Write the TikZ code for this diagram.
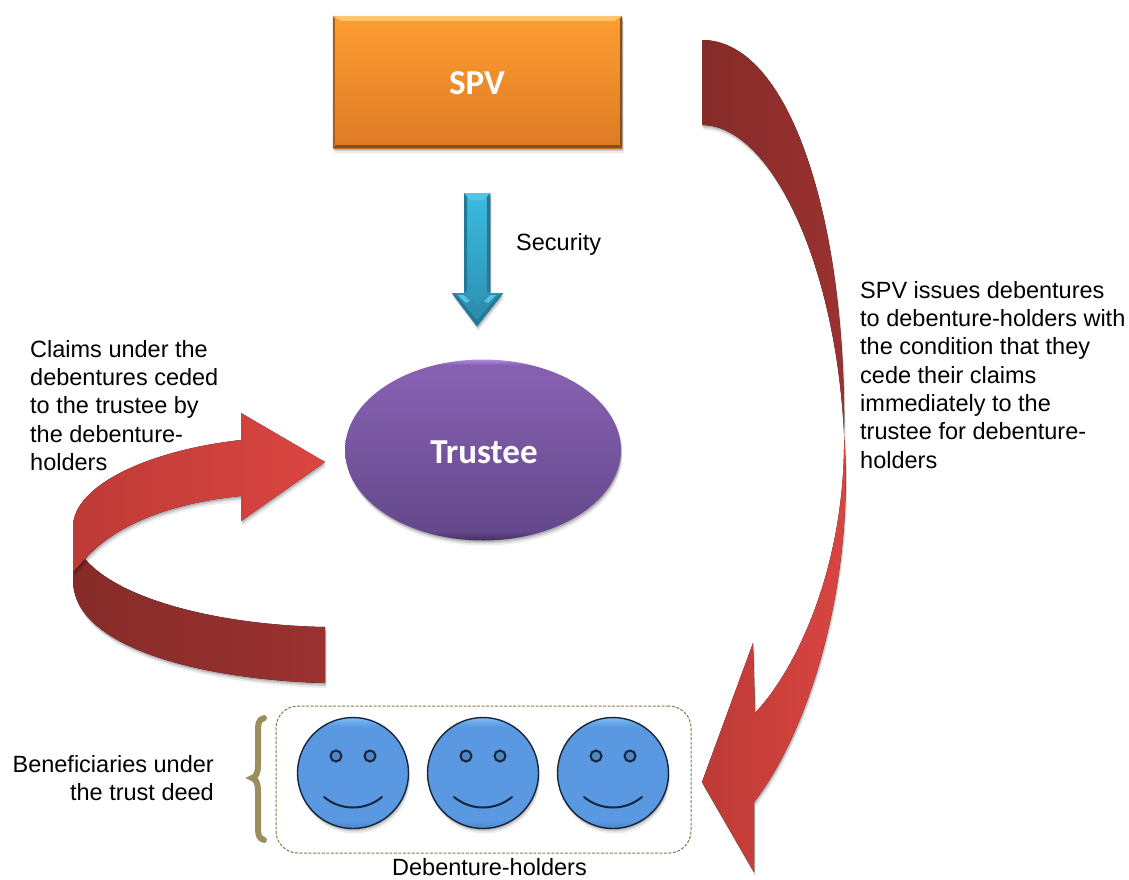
\documentclass[tikz,border=0pt]{standalone}
\usepackage{fontspec}
\setmainfont{Liberation Sans}
\newfontfamily\boxfont{Carlito}
\usetikzlibrary{shadows,shapes.geometric}
\definecolor{spvtop}{HTML}{FF9E33}
\definecolor{spvbottom}{HTML}{DD7A24}
\definecolor{spvlight}{HTML}{FFC66E}
\definecolor{spvdark}{HTML}{7E5024}
\definecolor{ovallight}{HTML}{B08BE0}
\definecolor{ovaltop}{HTML}{8660B0}
\definecolor{ovalbottom}{HTML}{64488C}
\definecolor{ovaldark}{HTML}{4A3568}
\definecolor{facelight}{HTML}{7FBDF6}
\definecolor{faceblue}{HTML}{5A98E2}
\definecolor{faceedge}{HTML}{4F88CC}
\definecolor{facestroke}{HTML}{16253A}
\definecolor{eyeblue}{HTML}{4F86C6}
\definecolor{olive}{HTML}{9A8F5C}
\definecolor{ribbondark}{HTML}{862B29}
\definecolor{ribbonmid}{HTML}{9A3230}
\definecolor{ribbonlow}{HTML}{BD3A36}
\definecolor{ribbonhigh}{HTML}{DB4642}
\definecolor{cyantop}{HTML}{3BBBE0}
\definecolor{cyanbottom}{HTML}{2D8DAD}
\definecolor{cyanhead}{HTML}{2C8FAF}
\definecolor{cyandark}{HTML}{1F7A98}
\definecolor{cyanlight}{HTML}{55C4E2}
\pgfdeclareverticalshading{ovalfill}{100bp}{color(0bp)=(ovaldark); color(25.5bp)=(ovaldark); color(27.5bp)=(ovalbottom); color(70bp)=(ovaltop); color(73.5bp)=(ovaltop); color(75bp)=(ovallight); color(100bp)=(ovallight)}
\pgfdeclareverticalshading{facefill}{100bp}{color(0bp)=(faceedge); color(25bp)=(faceedge); color(29bp)=(faceblue); color(71bp)=(faceblue); color(75bp)=(facelight); color(100bp)=(facelight)}
\tikzset{
    softshadow/.style={
        general shadow={shadow xshift=0.5pt,shadow yshift=-1.5pt,opacity=0.14,fill=black},
        general shadow={shadow xshift=1pt,shadow yshift=-3pt,opacity=0.12,fill=black},
        general shadow={shadow xshift=1.5pt,shadow yshift=-5pt,opacity=0.08,fill=black}},
    bodytext/.style={inner sep=0pt,font=\fontsize{23.5}{28.3}\selectfont},
    boxtext/.style={text=white,font=\boxfont\fontsize{35}{40}\selectfont\bfseries},
    facenode/.style={circle,minimum size=111pt,inner sep=0pt,draw=facestroke,line width=1.4pt,shading=facefill,softshadow},
    faceline/.style={draw=facestroke,line width=2pt},
    ribbonupper/.style={left color=ribbondark,right color=ribbonmid,softshadow},
    ribbonlower/.style={left color=ribbonlow,right color=ribbonhigh,softshadow}
}
\begin{document}
\begin{tikzpicture}[x=1pt,y=-1pt]
    \useasboundingbox (0,0) rectangle (1129,879);

    \node[rectangle,minimum width=289pt,minimum height=132pt,top color=spvtop,bottom color=spvbottom,softshadow] (spv) at (477.5,82) {};
    \fill[spvlight] (spv.north west) -- (spv.north east) -- ([xshift=-8pt,yshift=-5pt]spv.north east) -- ([xshift=8pt,yshift=-5pt]spv.north west) -- cycle;
    \fill[spvdark] (spv.south west) -- (spv.south east) -- ([xshift=-3pt,yshift=3pt]spv.south east) -- ([xshift=3pt,yshift=3pt]spv.south west) -- cycle;
    \fill[spvdark] (spv.north east) -- (spv.south east) -- ([xshift=-2pt,yshift=3pt]spv.south east) -- ([xshift=-2pt,yshift=-3pt]spv.north east) -- cycle;
    \fill[spvdark!60!spvbottom] (spv.north west) -- (spv.south west) -- ([xshift=2pt,yshift=3pt]spv.south west) -- ([xshift=2pt,yshift=-3pt]spv.north west) -- cycle;
    \node[boxtext] (spvtext) at (477,83) {SPV};

    \fill[top color=cyantop,bottom color=cyanbottom,softshadow] (464,193) -- (490,193) -- (490,293) -- (503,293) -- (477,326) -- (452,293) -- (464,293) -- cycle;
    \fill[cyanhead] (452,293) -- (464,293) -- (477,306) -- (490,293) -- (503,293) -- (477,326) -- cycle;
    \fill[cyandark] (452,293) -- (477,326) -- (503,293) -- (498,296) -- (477,320) -- (457,296) -- cycle;
    \fill[cyanlight] (458,295) -- (464,295) -- (470,301) -- (466,303) -- cycle;
    \fill[cyanlight] (496,295) -- (490,295) -- (484,301) -- (488,303) -- cycle;
    \fill[cyandark] (464,193) -- (467,196) -- (467,290) -- (464,293) -- cycle;
    \fill[cyandark] (490,193) -- (487,196) -- (487,290) -- (490,293) -- cycle;
    \fill[cyanlight] (464,193) -- (490,193) -- (484,200) -- (470,200) -- cycle;
    \node[bodytext,anchor=base west] (security) at (516,250) {Security};

    \node[ellipse,minimum width=276pt,minimum height=181pt,inner sep=0pt,shading=ovalfill,softshadow] (trustee) at (483,450) {};
    \node[boxtext] (trusteetext) at (484,452) {Trustee};

    \fill[ribbonupper] (325,627) .. controls (220,625) and (120,600) .. (85,559) -- (73,572) -- (73,580) .. controls (73,650) and (210,680) .. (325,683) -- cycle;
    \fill[ribbonlower] (73,572) -- (73,527) .. controls (73,485) and (150,450) .. (241,440) -- (241,413) -- (325,462) -- (241,521) -- (241,496) .. controls (170,503) and (115,525) .. (85,559) -- cycle;

    \fill[ribbonupper] (702,40) .. controls (790,40) and (846,220) .. (844,433) .. controls (835,260) and (770,125) .. (702,125) -- cycle;
    \fill[ribbonlower] (844,433) .. controls (855,580) and (810,730) .. (754,802) -- (754,872) -- (702,782) -- (753,643) -- (755,713) .. controls (800,665) and (846,560) .. (844,433) -- cycle;

    \node[bodytext,anchor=north west,align=left] (claims) at (30,340) {Claims under the\\debentures ceded\\to the trustee by\\the debenture-\\holders};
    \node[bodytext,anchor=north west,align=left] (issues) at (860,281) {SPV issues debentures\\to debenture-holders with\\the condition that they\\cede their claims\\immediately to the\\trustee for debenture-\\holders};
    \node[bodytext,anchor=north east,align=right] (beneficiaries) at (214,755) {Beneficiaries under\\the trust deed};

    \draw[olive,line width=6pt,line cap=round] (264,718) .. controls (258,720) and (258,724) .. (258,732) -- (258,765) .. controls (258,773) and (256,777) .. (252,778) .. controls (256,779) and (258,783) .. (258,791) -- (258,826) .. controls (258,834) and (258,838) .. (264,840);

    \node[rectangle,rounded corners=22pt,minimum width=415pt,minimum height=147pt,draw=olive!85!black,line width=1pt,dash pattern=on 3pt off 1.5pt] (holdersbox) at (483.5,779.5) {};
    \node[bodytext,anchor=base] (holders) at (489.5,875) {Debenture-holders};

    \foreach \name/\xpos in {one/353,two/483,three/613} {
        \node[facenode] (face\name) at (\xpos,773) {};
        \draw[faceline,fill=eyeblue] (\xpos-17,756) circle (5.5);
        \draw[faceline,fill=eyeblue] (\xpos+17,756) circle (5.5);
        \draw[faceline,line cap=round] (\xpos-29,797) .. controls (\xpos-12,811) and (\xpos+12,811) .. (\xpos+29,797);
    }
\end{tikzpicture}
\end{document}
